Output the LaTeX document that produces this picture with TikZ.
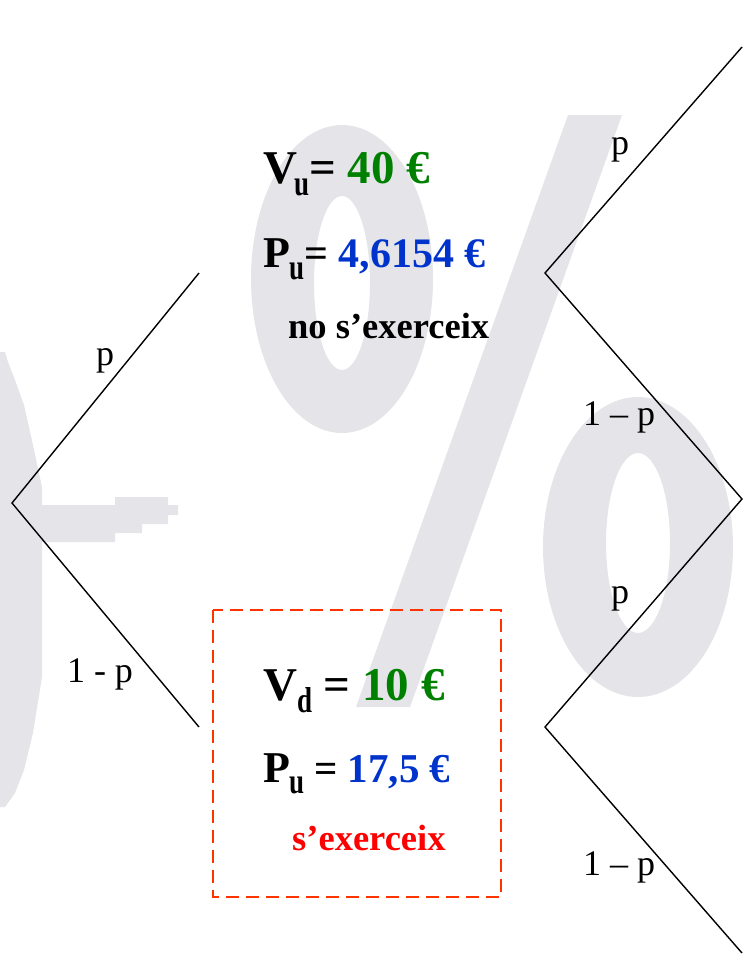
\documentclass[tikz,border=0pt]{standalone}
\usepackage{graphicx}
\usepackage{fontspec}
\setmainfont{Liberation Serif}
\definecolor{wm}{RGB}{229,228,232}
\definecolor{vgreen}{RGB}{0,128,0}
\definecolor{pblue}{RGB}{0,51,204}
\definecolor{exred}{RGB}{255,0,0}
\definecolor{boxred}{RGB}{255,51,0}
\newcommand\mysub[3]{\kern#1\raisebox{#2}{\scalebox{0.75}[1]{\fontsize{36}{36}\selectfont #3}}}
\newcommand\fsz[1]{\fontsize{#1}{#1}\selectfont}
\begin{document}
\begin{tikzpicture}[x=1pt,y=-1pt,
  branch/.style={line width=1.4pt, black},
  prob/.style={anchor=base, inner sep=0pt, font=\fontsize{36}{36}\selectfont},
  val/.style={anchor=base west, inner sep=0pt, font=\bfseries},
  valsmall/.style={anchor=base west, inner sep=0pt, font=\bfseries\fontsize{36.5}{36.5}\selectfont},
  exbox/.style={draw=boxred, line width=2.6pt, dash pattern=on 13pt off 7pt}]
\useasboundingbox (0,0) rectangle (750,959);
% watermark
\fill[wm, even odd rule] (342,279) ellipse [x radius=91pt, y radius=154pt]
                         (342,283) ellipse [x radius=28pt, y radius=87pt];
\fill[wm] (568,115) -- (622,115) -- (410,707) -- (356,707) -- cycle;
\fill[wm, even odd rule] (638,547) ellipse [x radius=95pt, y radius=150pt]
                         (638,543) ellipse [x radius=32pt, y radius=90pt];
\fill[wm] (0,352) -- (5,352) -- (8,362) -- (15,380) -- (24,405) -- (33,445) -- (42,487)
   -- (42,677) -- (33,733) -- (24,770) -- (15,793) -- (5,807) -- (0,807) -- cycle;
\fill[wm] (40,505) -- (115,505) -- (115,497) -- (168,497) -- (168,505) -- (178,505)
   -- (178,515) -- (168,515) -- (168,524) -- (142,524) -- (142,533) -- (115,533)
   -- (115,542) -- (40,542) -- cycle;
% tree
\coordinate (L) at (12,503);
\coordinate (A) at (199,273);
\coordinate (B) at (199,727);
\coordinate (U) at (545,273);
\coordinate (D) at (545,727);
\coordinate (R) at (742,499);
\coordinate (UU) at (742,47);
\coordinate (DD) at (742,953);
\draw[branch] (A) -- (L) -- (B);
\draw[branch] (UU) -- (U) -- (R) -- (D) -- (DD);
% probabilities
\node[prob] (pL) at (105,365) {p};
\node[prob] (qL) at (100,682) {1 - p};
\node[prob] (pU) at (620,154) {p};
\node[prob] (qU) at (619,425) {1 – p};
\node[prob] (pD) at (620,603) {p};
\node[prob] (qD) at (619,875) {1 – p};
% upper node
\node[val] (vu) at (263,183) {\fsz{47}V\mysub{-3pt}{-12pt}{u}= \textcolor{vgreen}{40 €}};
\node[val] (pu) at (263,267) {\fsz{44}P\mysub{-1pt}{-12pt}{u}\fsz{42}= \textcolor{pblue}{4,6154 €}};
\node[valsmall] (nex) at (288,338) {no s’exerceix};
% lower node
\draw[exbox] (213,610) rectangle (501,897);
\node[val] (vd) at (263,700) {\fsz{47}V\mysub{0pt}{-12pt}{d} = \textcolor{vgreen}{10 €}};
\node[val] (pd) at (263,782) {\fsz{44}P\mysub{-1pt}{-11pt}{u}\fsz{41} = \textcolor{pblue}{17,5 €}};
\node[valsmall, text=exred] (ex) at (292,850) {s’exerceix};
\end{tikzpicture}
\end{document}
